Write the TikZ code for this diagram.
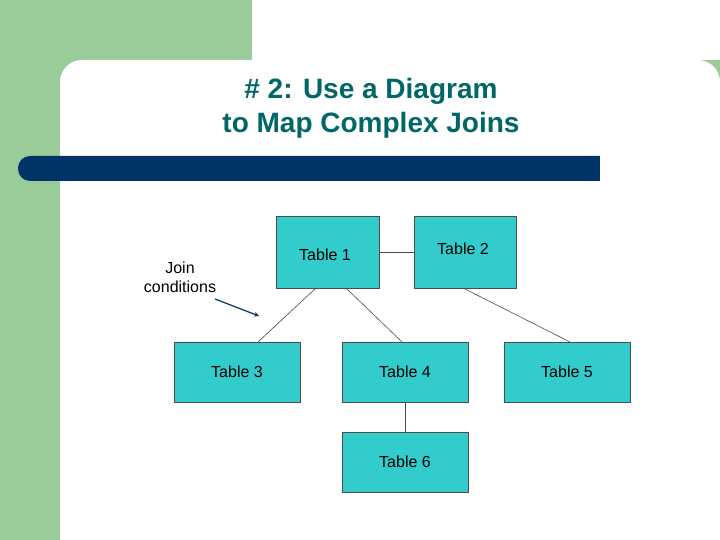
\documentclass[tikz,border=0pt]{standalone}
\usepackage{fontspec}
\setmainfont{Liberation Sans}
\begin{document}
\begin{tikzpicture}[x=1pt,y=-1pt,
  tbl/.style={draw=black!70,fill=tcyan,line width=0.6pt,minimum width=126pt,minimum height=60pt,inner sep=0pt,font=\fontsize{16}{18}\selectfont},
  conn/.style={draw=black!70,line width=0.6pt}]
\definecolor{tgreen}{HTML}{99CC99}
\definecolor{tcyan}{HTML}{33CCCC}
\definecolor{tblue}{HTML}{003366}
\definecolor{tteal}{HTML}{006666}
\useasboundingbox (0,0) rectangle (720,540);
\fill[tgreen] (0,0) rectangle (720,540);
\fill[white,rounded corners=22pt] (60,60) -- (720,60) -- (720,560) -- (60,560) -- cycle;
\fill[white] (252,0) rectangle (720,60);
\fill[tblue,rounded corners=12pt] (18,156) rectangle (620,181);
\fill[white] (600,150) rectangle (720,190);
\node[font=\bfseries\fontsize{28}{34}\selectfont,text=tteal,align=center] (title) at (371,108) {\# 2: Use a Diagram\\to Map Complex Joins};
\node[tbl,minimum width=103pt,minimum height=72pt] (t1) at (327.5,252) {};
\node[font=\fontsize{16}{18}\selectfont] (t1l) at (325,255) {Table 1};
\node[tbl,minimum width=102pt,minimum height=72pt] (t2) at (465,252) {};
\node[font=\fontsize{16}{18}\selectfont] (t2l) at (463,249) {Table 2};
\node[tbl] (t3) at (237,372) {Table 3};
\node[tbl] (t4) at (405,372) {Table 4};
\node[tbl] (t5) at (567,372) {Table 5};
\node[tbl] (t6) at (405,462) {Table 6};
\coordinate (a) at (316,288); \coordinate (b) at (258,342);
\coordinate (c) at (346,288); \coordinate (d) at (402,342);
\coordinate (e) at (463,288); \coordinate (f) at (570,342);
\draw[conn] (t1.east) -- (t2.west);
\draw[conn] (a) -- (b);
\draw[conn] (c) -- (d);
\draw[conn] (e) -- (f);
\draw[conn] (t4.south) -- (t6.north);
\node[font=\fontsize{16}{19}\selectfont,align=center] (jc) at (180,277) {Join\\conditions};
\coordinate (p) at (215,299); \coordinate (q) at (259,316);
\draw[line width=1.2pt,-stealth,draw=tblue] (p) -- (q);
\end{tikzpicture}
\end{document}
